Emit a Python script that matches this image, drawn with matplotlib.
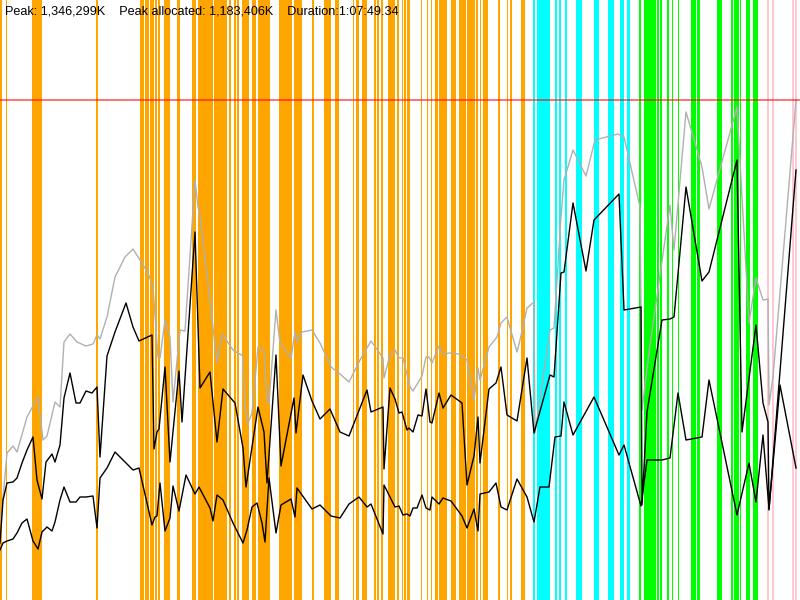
import numpy as np
import matplotlib
matplotlib.use('Agg')
import matplotlib.pyplot as plt

# summary values
PEAK_K = 1346299
PEAK_ALLOC_K = 1183406
DURATION_S = 1 * 3600 + 7 * 60 + 49.34
title = 'Peak: 1,346,299K    Peak allocated: 1,183,406K    Duration:1:07:49.34'

# gc events: start and width, as % of run duration
young_start = [0.0, 0.75, 4.0, 12.0, 17.5, 18.125, 18.75, 19.375, 19.75, 20.5, 22.125, 24.0,
               24.75, 26.75, 28.625, 29.25, 29.625, 30.25, 31.5, 32.25, 34.875, 36.75, 39.0,
               40.5, 41.875, 44.125, 44.5, 45.25, 46.75, 47.125, 47.625, 48.5, 49.625, 50.25,
               50.5, 50.875, 52.625, 53.375, 53.875, 54.375, 54.875, 56.375, 57.375, 58.375,
               59.5, 60.0, 60.375, 62.25, 63.375, 63.75, 65.125]
young_width = [0.25, 0.125, 1.25, 0.25, 0.5, 0.45, 0.5, 0.25, 0.25, 0.75, 0.375, 0.5,
               1.875, 1.625, 0.25, 0.25, 0.3, 0.875, 0.5, 1.5, 1.625, 1.0, 0.25,
               0.875, 0.5, 0.125, 0.375, 0.625, 0.25, 0.25, 0.25, 0.875, 0.2, 0.125,
               0.25, 0.35, 0.125, 0.125, 0.125, 0.375, 1.0, 0.625, 0.875, 1.0,
               0.2, 0.125, 0.625, 0.25, 0.125, 0.25, 0.5]
mixed_start = [66.625, 67.125, 69.375, 69.875, 70.625, 72.0, 74.25, 76.0, 77.5, 78.375]
mixed_width = [0.25, 1.625, 0.25, 0.25, 0.25, 0.75, 0.625, 0.75, 0.5, 0.375]
full_start = [79.875, 80.5, 82.125, 82.5, 83.375, 84.0, 84.75, 86.375, 87.125, 89.625,
              91.375, 91.75, 92.5, 93.25, 94.125]
full_width = [0.25, 1.5, 0.25, 0.25, 0.25, 0.125, 0.125, 0.625, 0.375, 0.625,
              0.25, 0.625, 0.125, 0.5, 0.625]
other_start = [95.875, 96.5, 99.0, 99.375]
other_width = [0.25, 0.25, 0.25, 0.25]

# heap size (% of duration, % of peak)
heap_t = [0.125, 0.875, 1.625, 2.125, 3.375, 4.75, 5.375, 5.875, 6.875, 7.5, 8.0, 8.75, 9.625,
          10.75, 11.625, 12.125, 12.5, 13.375, 14.375, 15.625, 16.625, 17.5, 18.5, 19.125,
          19.75, 20.0, 20.625, 21.25, 21.625, 22.5, 23.125, 24.375, 24.75, 25.0, 27.125,
          27.75, 29.125, 30.375, 30.625, 31.0, 31.5, 32.25, 33.0, 33.375, 33.625, 34.5,
          35.0, 36.375, 36.875, 37.125, 37.75, 39.0, 40.0, 41.375, 42.5, 43.625, 45.0,
          46.375, 47.875, 48.0, 48.75, 49.375, 49.875, 50.375, 51.25, 51.625, 52.75,
          53.25, 53.625, 54.0, 54.875, 55.375, 56.25, 57.375, 58.375, 59.25, 59.75, 60.0,
          61.125, 62.125, 62.625, 63.375, 64.625, 65.0, 65.875, 66.75, 66.875, 68.75,
          69.25, 70.125, 70.5, 71.625, 73.25, 74.375, 77.25, 78.0, 80.0, 80.25, 81.25,
          83.75, 84.25, 85.75, 87.75, 88.625, 92.125, 93.625, 94.5, 95.375, 96.0, 96.125,
          96.625, 99.5]
heap_v = [16.0, 29.4, 30.8, 29.6, 36.6, 40.6, 32.0, 32.8, 39.6, 38.6, 51.6, 53.2, 51.6,
          50.8, 51.2, 53.0, 52.2, 56.6, 64.6, 68.6, 70.2, 68.0, 65.4, 62.6,
          48.6, 48.4, 56.0, 52.6, 39.6, 54.0, 53.8, 84.0, 78.6, 77.0, 47.6,
          53.2, 50.0, 48.8, 38.4, 35.4, 37.4, 50.6, 50.0, 39.6, 39.4, 58.0,
          51.4, 48.4, 53.6, 51.6, 53.6, 54.0, 51.4, 46.6, 45.2, 43.6, 48.0,
          51.8, 48.4, 44.4, 49.0, 50.0, 48.4, 48.4, 42.6, 41.8, 44.8,
          48.6, 48.6, 47.4, 50.8, 49.2, 49.4, 49.2, 48.0, 40.0, 46.4, 44.0,
          50.6, 52.6, 55.4, 56.6, 49.6, 52.0, 58.4, 59.6, 33.4, 54.0,
          54.4, 76.6, 84.0, 90.0, 84.8, 92.0, 93.2, 92.6, 78.6, 38.0, 51.0,
          79.0, 70.0, 97.6, 86.6, 78.2, 98.6, 55.4, 64.4, 60.0, 60.2, 39.0,
          44.6, 100.0]

# allocated before gc
alloc_t = [0.0, 0.375, 0.875, 1.625, 2.125, 2.75, 3.375, 4.125, 4.625, 5.25, 5.75, 6.5, 6.875,
           7.5, 8.0, 8.75, 9.5, 10.0, 10.75, 11.5, 12.125, 12.5, 13.375, 14.375, 15.75,
           16.625, 17.375, 19.0, 19.25, 19.625, 19.875, 20.625, 21.25, 22.375, 22.75,
           24.375, 25.0, 26.25, 27.125, 27.875, 29.375, 30.375, 30.75, 31.5, 32.25, 33.0,
           33.375, 34.5, 35.125, 36.75, 37.0, 37.875, 39.0, 40.0, 41.25, 42.5, 43.625,
           45.875, 46.375, 47.875, 48.0, 48.75, 49.375, 49.875, 50.25, 50.875, 51.125,
           51.625, 52.25, 52.75, 53.25, 53.75, 54.0, 54.875, 55.375, 56.375, 57.75,
           58.375, 59.25, 59.75, 60.0, 61.125, 62.0, 62.625, 63.375, 64.625, 65.875,
           66.75, 68.75, 69.25, 70.125, 70.5, 71.625, 73.25, 74.25, 77.375, 78.0, 80.125,
           80.25, 80.875, 82.75, 83.75, 84.25, 85.75, 87.75, 88.625, 92.125, 92.75, 94.5,
           95.375, 96.0, 96.125, 99.5]
alloc_v = [11.4, 20.0, 23.4, 23.6, 24.4, 27.4, 30.0, 32.6, 24.0, 20.2, 27.6, 29.2, 27.6,
           31.0, 40.4, 45.4, 39.4, 39.4, 41.8, 41.4, 42.6, 28.6, 48.8, 53.6, 59.4,
           54.6, 51.8, 53.0, 30.2, 33.6, 34.2, 46.6, 27.6, 45.8, 35.6,
           73.6, 42.4, 45.6, 31.6, 42.2, 39.4, 30.4, 22.6, 30.6, 38.6, 33.6,
           23.4, 49.0, 26.8, 40.4, 33.4, 45.0, 39.8, 36.2, 38.2, 33.6, 32.8,
           42.0, 37.6, 38.6, 26.2, 42.4, 40.2, 37.4, 37.6, 34.0, 34.4,
           33.6, 37.0, 36.8, 42.2, 35.6, 35.4, 41.4, 38.4, 41.0, 39.4,
           23.0, 28.8, 36.6, 27.4, 42.2, 43.4, 46.6, 37.0, 35.8, 48.4,
           33.4, 45.0, 44.6, 65.4, 65.6, 79.4, 65.8, 76.0, 81.2, 58.0, 58.6,
           19.0, 37.6, 56.0, 56.2, 56.6, 82.6, 63.8, 65.6, 88.0, 33.6, 55.0,
           39.4, 35.6, 18.0, 86.0]

# live after gc
live_t = [0.0, 0.375, 0.875, 1.625, 2.125, 2.75, 3.375, 4.125, 4.75, 5.25, 5.875, 6.5, 6.875,
          7.5, 8.0, 8.75, 9.5, 10.0, 10.75, 11.625, 12.125, 12.5, 13.375, 14.375, 15.625,
          16.625, 17.375, 18.375, 19.0, 19.375, 19.625, 20.0, 20.625, 21.25, 21.625,
          22.375, 23.25, 24.375, 24.875, 26.25, 26.625, 27.125, 27.875, 29.125, 30.375,
          30.875, 31.5, 32.125, 32.75, 33.125, 33.625, 34.5, 35.125, 36.375, 36.875,
          37.125, 39.0, 40.0, 41.375, 42.5, 43.625, 44.875, 45.875, 46.375, 47.875, 48.0,
          49.375, 49.875, 50.375, 50.875, 51.25, 51.625, 52.125, 52.75, 53.25, 53.75,
          54.0, 54.875, 55.375, 56.375, 57.75, 58.375, 59.25, 59.75, 60.0, 61.125, 62.0,
          62.625, 63.375, 64.625, 65.875, 66.75, 67.5, 68.625, 69.375, 70.125, 70.5,
          71.625, 74.25, 77.375, 78.0, 80.125, 80.875, 82.75, 83.75, 84.75, 85.75, 87.75,
          88.625, 92.125, 93.625, 94.5, 95.375, 96.125, 97.5, 99.5]
live_v = [10.0, 11.4, 11.8, 12.2, 13.4, 15.4, 16.2, 11.8, 10.2, 13.6, 14.6, 13.8, 15.6,
          20.0, 22.6, 19.6, 19.6, 20.6, 20.6, 20.8, 14.4, 24.4, 26.4, 29.6, 27.6,
          26.0, 26.4, 19.4, 15.0, 16.6, 16.8, 23.4, 13.8, 16.4, 22.8,
          17.8, 25.0, 21.2, 22.6, 18.4, 15.8, 21.0, 20.0, 15.4, 11.4,
          14.0, 18.6, 19.4, 15.4, 11.6, 24.4, 13.4, 19.0, 20.2, 16.6,
          22.4, 18.2, 19.0, 16.8, 16.4, 19.2, 20.6, 18.6, 19.2, 13.2, 23.0,
          18.6, 18.8, 17.0, 17.2, 16.8, 18.4, 18.4, 21.0, 18.4, 18.0,
          20.6, 19.2, 20.4, 19.8, 16.8, 14.4, 18.2, 13.8, 21.2, 21.6, 23.4,
          18.6, 18.0, 24.2, 20.6, 15.6, 22.6, 22.6, 32.6, 32.8, 39.6,
          33.0, 40.6, 29.0, 31.0, 18.8, 28.0, 28.0, 28.4, 41.4, 32.0, 32.6,
          44.0, 17.0, 27.4, 19.6, 33.0, 18.2, 43.0, 26.4]


def secs(pct):
    return np.array(pct) * DURATION_S / 100.0


def kb(pct):
    return np.array(pct) * PEAK_K / 100.0


fig = plt.figure(figsize=(8, 6), dpi=100)
ax = fig.add_axes([0, 0, 1, 1])
ax.set_xlim(0, DURATION_S)
ax.set_ylim(0, PEAK_K * 1.2)
ax.axis('off')

#gc bands
for starts, widths, col in [(young_start, young_width, '#ffa500'),
                            (mixed_start, mixed_width, '#00ffff'),
                            (full_start, full_width, '#00ff00'),
                            (other_start, other_width, '#ffc8d2')]:
    for s, w in zip(secs(starts), secs(widths)):
        ax.axvspan(s, s + w, color=col, lw=0, zorder=1)

ax.axhline(PEAK_K, color='#ff0000', alpha=0.55, lw=1.4, zorder=4)

ax.plot(secs(heap_t), kb(heap_v), color='#b0b0b0', lw=1.0, zorder=2)
ax.plot(secs(alloc_t), kb(alloc_v), color='black', lw=1.0, zorder=3)
ax.plot(secs(live_t), kb(live_v), color='black', lw=1.0, zorder=3)

fig.text(5 / 800, 1 - 12 / 600, title, fontsize=9.1, va='center', ha='left',
         family=['Liberation Sans', 'DejaVu Sans'])

fig.savefig('out.png', dpi=100)
